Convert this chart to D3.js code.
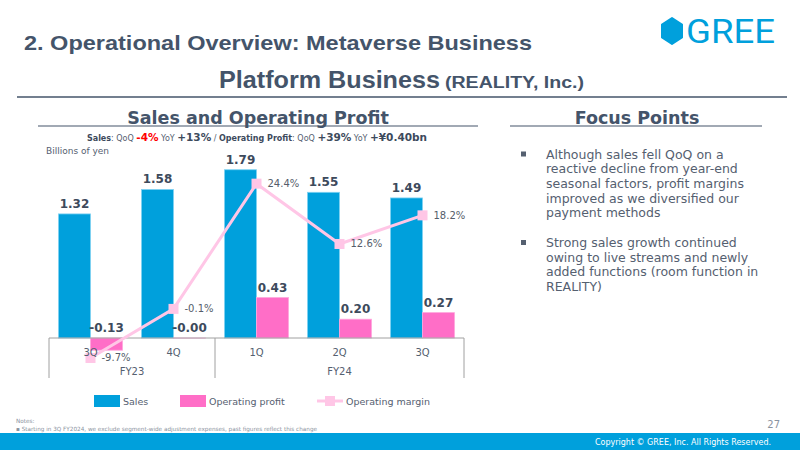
<!DOCTYPE html>
<html>
<head>
<meta charset="utf-8">
<script src="https://cdn.jsdelivr.net/npm/d3@7"></script>
<style>
  body { margin: 0; background: #fff; }
  svg { display: block; font-family: "DejaVu Sans", Verdana, sans-serif; }
</style>
</head>
<body>
<svg id="chart"></svg>
<script>
// data
var quarters = ["3Q", "4Q", "1Q", "2Q", "3Q"];
var fiscalYears = [
  { name: "FY23", from: 0, to: 2 },
  { name: "FY24", from: 2, to: 5 }
];
var sales = [1.32, 1.58, 1.79, 1.55, 1.49];
var opProfit = [-0.13, -0.001, 0.43, 0.20, 0.27];
var opMargin = [-9.7, -0.1, 24.4, 12.6, 18.2];

var seriesNames = ["Sales", "Operating profit", "Operating margin"];
var summaryParts = [
  { t: "Sales", b: true, s: 8 },
  { t: ": QoQ ", s: 8 },
  { t: "-4%", b: true, s: 10.5, c: "#ff0000" },
  { t: " YoY ", s: 8 },
  { t: "+13%", b: true, s: 10.5 },
  { t: " / ", s: 8 },
  { t: "Operating Profit", b: true, s: 8 },
  { t: ": QoQ ", s: 8 },
  { t: "+39%", b: true, s: 10.5 },
  { t: " YoY ", s: 8 },
  { t: "+¥0.40bn", b: true, s: 10.5 }
];
var focusPoints = [
  ["Although sales fell QoQ on a", "reactive decline from year-end", "seasonal factors, profit margins", "improved as we diversified our", "payment methods"],
  ["Strong sales growth continued", "owing to live streams and newly", "added functions (room function in", "REALITY)"]
];

var W = 800, H = 450;
var blue = "#00a0dc", pink = "#ff6ec7", lightPink = "#ffc6e6";
var titleColor = "#44546a", textColor = "#556070";

var svg = d3.select("#chart").attr("width", W).attr("height", H);

// header
svg.append("text")
  .attr("x", 24).attr("y", 50)
  .attr("textLength", 508).attr("lengthAdjust", "spacingAndGlyphs")
  .style("font-family", "'Liberation Sans', Arial, sans-serif")
  .style("font-weight", "bold").style("font-size", "21px")
  .attr("fill", titleColor)
  .text("2. Operational Overview: Metaverse Business");

var logo = svg.append("g");
logo.append("path")
  .attr("d", "M672,18L682,24.5L682,37.5L672,44L662,37.5L662,24.5Z")
  .attr("fill", blue).attr("stroke", blue).attr("stroke-width", 2).attr("stroke-linejoin", "round");
logo.append("text")
  .attr("x", 686).attr("y", 43)
  .attr("textLength", 89).attr("lengthAdjust", "spacingAndGlyphs")
  .style("font-family", "Roboto, sans-serif").style("font-size", "34px")
  .attr("fill", blue)
  .text("GREE");

svg.append("text")
  .attr("x", 219).attr("y", 88)
  .attr("textLength", 221).attr("lengthAdjust", "spacingAndGlyphs")
  .style("font-family", "'Liberation Sans', Arial, sans-serif")
  .style("font-weight", "bold").style("font-size", "23px").attr("fill", titleColor)
  .text("Platform Business");
svg.append("text")
  .attr("x", 445).attr("y", 88)
  .attr("textLength", 139).attr("lengthAdjust", "spacingAndGlyphs")
  .style("font-family", "'Liberation Sans', Arial, sans-serif")
  .style("font-weight", "bold").style("font-size", "16px").attr("fill", titleColor)
  .text("(REALITY, Inc.)");

svg.append("line").attr("x1", 17).attr("x2", 787).attr("y1", 97).attr("y2", 97)
  .attr("stroke", titleColor).attr("stroke-width", 1.5);

// section heads
function sectionHead(cx, x1, x2, label) {
  svg.append("text").attr("x", cx).attr("y", 124).attr("text-anchor", "middle")
    .style("font-weight", "bold").style("font-size", "17.5px").attr("fill", titleColor)
    .text(label);
  svg.append("line").attr("x1", x1).attr("x2", x2).attr("y1", 126).attr("y2", 126)
    .attr("stroke", titleColor).attr("stroke-width", 1.2);
}
sectionHead(258, 38, 478, "Sales and Operating Profit");
sectionHead(637, 510, 762, "Focus Points");

var summary = svg.append("text").attr("x", 257).attr("y", 141).attr("text-anchor", "middle")
  .attr("fill", textColor);
summary.selectAll("tspan").data(summaryParts).enter().append("tspan")
  .style("font-size", function (d) { return d.s + "px"; })
  .style("font-weight", function (d) { return d.b ? "bold" : "normal"; })
  .attr("fill", function (d) { return d.c || (d.b ? "#3d4a5c" : textColor); })
  .text(function (d) { return d.t; });

svg.append("text").attr("x", 46).attr("y", 154)
  .style("font-size", "9px").attr("fill", textColor).text("Billions of yen");

// chart scales
var x = d3.scaleBand().domain(d3.range(quarters.length)).range([49, 464]);
var xs = d3.scaleBand().domain(["sales", "op"]).range([9.5, 73.5]);
var y = d3.scaleLinear().domain([-0.2, 1.8]).range([356.8, 168.8]);
var ym = d3.scaleLinear().domain([-10, 25]).range([359.5, 180.6]);

var fmt = function (v) { return (v < 0 ? "-" : "") + Math.abs(v).toFixed(2); };

var plot = svg.append("g");

plot.selectAll("rect.sales").data(sales).enter().append("rect")
  .attr("class", "sales")
  .attr("x", function (d, i) { return x(i) + xs("sales"); })
  .attr("width", xs.bandwidth())
  .attr("y", function (d) { return y(d); })
  .attr("height", function (d) { return y(0) - y(d); })
  .attr("fill", blue).attr("stroke", "#7fd2f2").attr("stroke-width", 0.8);

plot.selectAll("rect.op").data(opProfit).enter().append("rect")
  .attr("class", "op")
  .attr("x", function (d, i) { return x(i) + xs("op"); })
  .attr("width", xs.bandwidth())
  .attr("y", function (d) { return y(Math.max(0, d)); })
  .attr("height", function (d) { return Math.abs(y(0) - y(d)); })
  .attr("fill", pink).attr("stroke", "#ffa6dc").attr("stroke-width", 0.8);

plot.selectAll("text.salesLbl").data(sales).enter().append("text")
  .attr("x", function (d, i) { return x(i) + xs("sales") + xs.bandwidth() / 2; })
  .attr("y", function (d) { return y(d) - 6; })
  .attr("text-anchor", "middle")
  .style("font-weight", "bold").style("font-size", "12px").attr("fill", "#3d4a5c")
  .text(fmt);

plot.selectAll("text.opLbl").data(opProfit).enter().append("text")
  .attr("x", function (d, i) { return x(i) + xs("op") + xs.bandwidth() / 2; })
  .attr("y", function (d) { return y(Math.max(0, d)) - 6; })
  .attr("text-anchor", "middle")
  .style("font-weight", "bold").style("font-size", "12px").attr("fill", "#3d4a5c")
  .text(fmt);

// category box
var axisTop = y(0), axisBottom = 378;
var box = svg.append("g").attr("stroke", "#a0a0a0").attr("stroke-width", 1);
box.append("line").attr("x1", x.range()[0]).attr("x2", x.range()[1])
  .attr("y1", axisTop).attr("y2", axisTop);
var splits = [0].concat(fiscalYears.map(function (f) { return f.to; }));
box.selectAll("line.v").data(splits).enter().append("line")
  .attr("x1", function (d) { return x.range()[0] + d * x.step(); })
  .attr("x2", function (d) { return x.range()[0] + d * x.step(); })
  .attr("y1", axisTop).attr("y2", axisBottom);

// margin line
var cx = function (i) { return x(i) + x.bandwidth() / 2; };
svg.append("path").datum(opMargin)
  .attr("d", d3.line().x(function (d, i) { return cx(i); }).y(function (d) { return ym(d); }))
  .attr("fill", "none").attr("stroke", lightPink).attr("stroke-width", 3);
svg.selectAll("rect.mk").data(opMargin).enter().append("rect")
  .attr("x", function (d, i) { return cx(i) - 5; })
  .attr("y", function (d) { return ym(d) - 5; })
  .attr("width", 10).attr("height", 10).attr("fill", lightPink);
svg.selectAll("text.mLbl").data(opMargin).enter().append("text")
  .attr("x", function (d, i) { return cx(i) + 11; })
  .attr("y", function (d) { return ym(d) + 3.5; })
  .style("font-size", "10px").attr("fill", "#555d6a")
  .text(function (d) { return d.toFixed(1) + "%"; });

// category labels on top
svg.selectAll("text.q").data(quarters).enter().append("text")
  .attr("x", function (d, i) { return x(i) + x.bandwidth() / 2; })
  .attr("y", 356).attr("text-anchor", "middle")
  .style("font-size", "10px").attr("fill", textColor)
  .text(function (d) { return d; });

svg.selectAll("text.fy").data(fiscalYears).enter().append("text")
  .attr("x", function (d) { return x.range()[0] + (d.from + d.to) / 2 * x.step(); })
  .attr("y", 375).attr("text-anchor", "middle")
  .style("font-size", "10px").attr("fill", textColor)
  .text(function (d) { return d.name; });

// legend
var legendX = [94, 180, 317];
var legend = svg.selectAll("g.lg").data(seriesNames).enter().append("g")
  .attr("transform", function (d, i) { return "translate(" + legendX[i] + ",401)"; });
legend.each(function (d, i) {
  var g = d3.select(this);
  if (i < 2) {
    g.append("rect").attr("x", 0).attr("y", -6).attr("width", 26).attr("height", 12)
      .attr("fill", i === 0 ? blue : pink);
  } else {
    g.append("line").attr("x1", 0).attr("x2", 26).attr("y1", 0).attr("y2", 0)
      .attr("stroke", lightPink).attr("stroke-width", 3);
    g.append("rect").attr("x", 8).attr("y", -5).attr("width", 10).attr("height", 10).attr("fill", lightPink);
  }
  g.append("text").attr("x", 29).attr("y", 3.5)
    .style("font-size", "9.5px").attr("fill", textColor).text(d);
});

// focus points
var lineGap = 14.7;
var blockY = [154, 242.5];
focusPoints.forEach(function (lines, k) {
  svg.append("rect").attr("x", 521).attr("y", blockY[k] - 2.5).attr("width", 5).attr("height", 5)
    .attr("fill", textColor);
  svg.append("g").selectAll("text").data(lines).enter().append("text")
    .attr("x", 546).attr("y", function (d, i) { return blockY[k] + 4.5 + i * lineGap; })
    .style("font-size", "12.5px").attr("fill", textColor)
    .text(function (d) { return d; });
});

// notes and footer
svg.append("text").attr("x", 16).attr("y", 423).style("font-size", "5.7px").attr("fill", "#8a93a0").text("Notes:");
svg.append("text").attr("x", 16).attr("y", 430.5).style("font-size", "5.7px").attr("fill", "#8a93a0")
  .text("▪  Starting in 3Q FY2024, we exclude segment-wide adjustment expenses, past figures reflect this change");
svg.append("text").attr("x", 780).attr("y", 428).attr("text-anchor", "end")
  .style("font-size", "10px").attr("fill", "#8a93a0").text("27");
svg.append("rect").attr("x", 0).attr("y", 433).attr("width", W).attr("height", H - 433).attr("fill", blue);
svg.append("text").attr("x", 771).attr("y", 445).attr("text-anchor", "end")
  .style("font-size", "8px").attr("fill", "#fff").text("Copyright © GREE, Inc. All Rights Reserved.");
</script>
</body>
</html>
